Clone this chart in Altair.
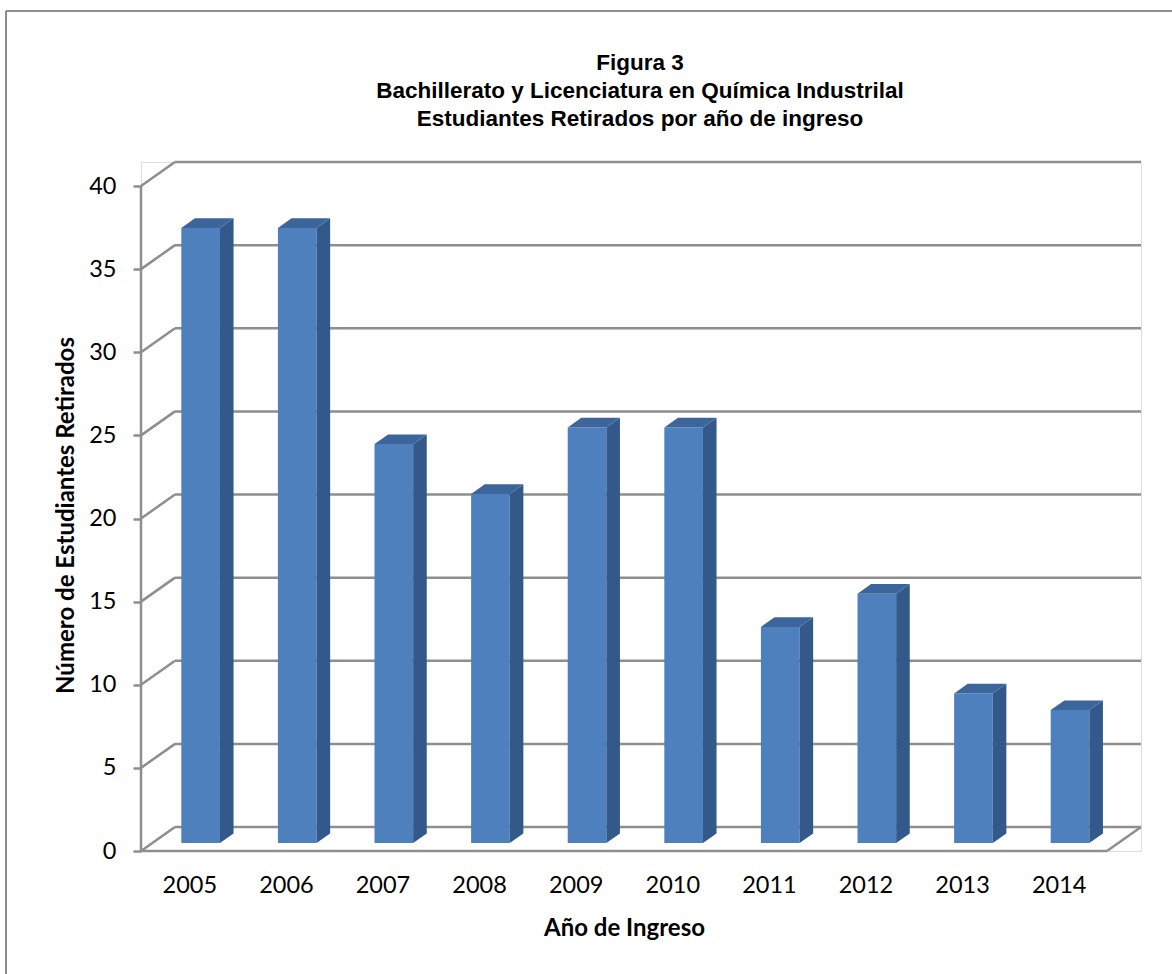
import altair as alt
import pandas as pd

# ---------------- data ----------------
years = ["2005", "2006", "2007", "2008", "2009", "2010", "2011", "2012", "2013", "2014"]
retirados = [37, 37, 24, 21, 25, 25, 13, 15, 9, 8]
y_ticks = [0, 5, 10, 15, 20, 25, 30, 35, 40]
title_lines = [
    "Figura 3",
    "Bachillerato y Licenciatura en Química Industrilal",
    "Estudiantes Retirados por año de ingreso",
]
y_title = "Número de Estudiantes Retirados"
x_title = "Año de Ingreso"

# ---------------- geometry / style constants ----------------
N = len(years)
YTOP = max(y_ticks)
PX_X = 96.6      # pixels per category slot
PX_Y = 16.625    # pixels per unit of value
DX = 34 / PX_X   # 3D depth in x units
DY = 24 / PX_Y   # 3D depth in y units
XMAX = N + DX
YMAX = YTOP + DY
W = round(XMAX * PX_X)
H = round(YMAX * PX_Y)

HALF = 0.2                 # half bar width (slot units)
SX, SY = DX / 3, DY / 3    # bar front position inside the depth
BX, BY = 0.4 * DX, 0.4 * DY  # bar depth

GRID = "#8e8e8e"
GRID_W = 2.5
FRONT = "#4d80bd"
SIDE = "#33598a"
TOP = "#3c669b"
TXT_FONT = "Lato"

# ---------------- tables ----------------
front_rows, side_rows, top_rows = [], [], []
for i, (yr, v) in enumerate(zip(years, retirados)):
    x0 = i + 0.5 - HALF + SX
    x1 = i + 0.5 + HALF + SX
    front_rows.append({"year": yr, "x0": x0, "x1": x1, "yb": SY, "yt": v + SY})
    side_rows.append({"year": yr, "x": x1, "ya": v + SY, "yb": SY})
    side_rows.append({"year": yr, "x": x1 + BX, "ya": v + SY + BY, "yb": SY + BY})
    top_rows.append({"year": yr, "y": v + SY, "xa": x0, "xb": x1})
    top_rows.append({"year": yr, "y": v + SY + BY, "xa": x0 + BX, "xb": x1 + BX})
front_df = pd.DataFrame(front_rows)
side_df = pd.DataFrame(side_rows)
top_df = pd.DataFrame(top_rows)

back_df = pd.DataFrame({"x": [DX] * len(y_ticks), "x2": [N + DX] * len(y_ticks),
                        "y": [t + DY for t in y_ticks]})
diag_df = pd.DataFrame({"x": [0.0] * len(y_ticks), "x2": [DX] * len(y_ticks),
                        "y": y_ticks, "y2": [t + DY for t in y_ticks]})
frame_df = pd.DataFrame({
    "x": [0.0, float(N), 0.0],
    "x2": [float(N), N + DX, 0.0],
    "y": [0.0, 0.0, 0.0],
    "y2": [0.0, DY, float(YTOP)],
})

label_expr = "[" + ",".join(f"'{y}'" for y in years) + "][floor(datum.value)]"

xscale = alt.Scale(domain=[0, XMAX], nice=False, zero=False)
yscale = alt.Scale(domain=[0, YMAX], nice=False, zero=False)

xaxis = alt.Axis(
    values=[i + 0.5 for i in range(N)], labelExpr=label_expr,
    ticks=False, domain=False, grid=False,
    labelFont=TXT_FONT, labelFontSize=23.5, labelColor="black", labelPadding=22,
    labelFlush=False, labelOverlap=False,
    title=x_title, titleFont=TXT_FONT, titleFontSize=24, titleFontWeight="bold",
    titleColor="black", titleX=483, titleY=84, titleBaseline="alphabetic",
)
yaxis = alt.Axis(
    values=y_ticks, domain=False, grid=False,
    tickColor=GRID, tickWidth=GRID_W, tickSize=8,
    labelFont=TXT_FONT, labelFontSize=23.5, labelColor="black", labelPadding=17,
    labelFlush=False, labelOverlap=False,
    title=y_title, titleFont=TXT_FONT, titleFontSize=24, titleFontWeight="bold",
    titleColor="black", titleX=-68, titleY=353, titleBaseline="alphabetic",
    titleAngle=270,
)


def X(f):
    return alt.X(f, type="quantitative", scale=xscale, axis=xaxis)


def Y(f):
    return alt.Y(f, type="quantitative", scale=yscale, axis=yaxis)


one = pd.DataFrame({"a": [0]})
border = alt.Chart(one).mark_rule(color=GRID, strokeWidth=2)
border_top = border.encode(x=alt.value(-135), x2=alt.value(W + 31), y=alt.value(-151))
border_left = border.encode(x=alt.value(-135), y=alt.value(-151), y2=alt.value(H + 123))

title = alt.Chart(one).mark_text(
    text=title_lines, font="Liberation Sans", fontSize=22.5, fontWeight="bold",
    color="black", lineHeight=28, align="center", baseline="alphabetic",
).encode(x=alt.value(499), y=alt.value(-92))

back = alt.Chart(back_df).mark_rule(color=GRID, strokeWidth=GRID_W).encode(
    x=X("x"), x2="x2", y=Y("y"))
diag = alt.Chart(diag_df).mark_rule(color=GRID, strokeWidth=GRID_W).encode(
    x=X("x"), x2="x2", y=Y("y"), y2="y2")
frame = alt.Chart(frame_df).mark_rule(color=GRID, strokeWidth=GRID_W).encode(
    x=X("x"), x2="x2", y=Y("y"), y2="y2")

front = alt.Chart(front_df).mark_rect(color=FRONT).encode(
    x=X("x0"), x2="x1", y=Y("yb"), y2="yt")
side = alt.Chart(side_df).mark_area(color=SIDE, orient="vertical").encode(
    x=X("x"), y=Y("ya"), y2="yb", detail="year:N")
top = alt.Chart(top_df).mark_area(color=TOP, orient="horizontal").encode(
    y=Y("y"), x=X("xa"), x2="xb", detail="year:N")

chart = alt.layer(border_top, border_left, title, back, diag, frame, front, side, top).properties(
    width=W, height=H,
    autosize=alt.AutoSizeParams(type="none"),
    padding={"left": 141, "top": 162, "right": 1172 - 141 - W, "bottom": 974 - 162 - H},
).configure_view(stroke=None).configure(background="white")

chart.save("out.html", embed_options={"renderer": "svg", "actions": False})
